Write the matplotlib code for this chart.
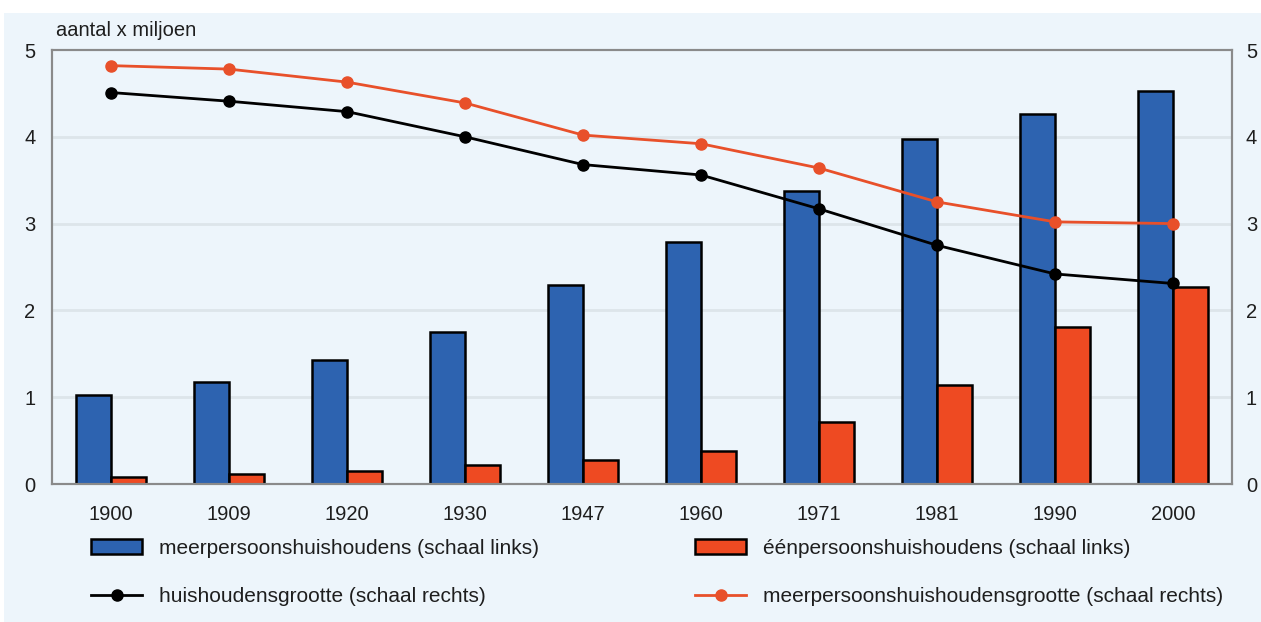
import matplotlib
matplotlib.use('Agg')
import matplotlib.pyplot as plt
import numpy as np
from matplotlib.patches import Rectangle, Patch
from matplotlib.lines import Line2D

# Huishoudens in Nederland, 1900-2000
years = ['1900', '1909', '1920', '1930', '1947', '1960', '1971', '1981', '1990', '2000']
meerpersoons = [1.03, 1.18, 1.43, 1.75, 2.29, 2.79, 3.38, 3.97, 4.26, 4.53]
eenpersoons = [0.08, 0.12, 0.15, 0.22, 0.28, 0.38, 0.71, 1.14, 1.81, 2.27]
huishoudensgrootte = [4.51, 4.41, 4.29, 4.00, 3.68, 3.56, 3.17, 2.75, 2.42, 2.31]
meerpersoonsgrootte = [4.82, 4.78, 4.63, 4.39, 4.02, 3.92, 3.64, 3.25, 3.02, 3.00]

blue = '#2d63b0'
orange = '#ee4a22'
line_orange = '#e8502a'
bg = '#edf5fb'
txt = '#1e1e1e'

plt.rcParams['font.family'] = ['Liberation Sans', 'DejaVu Sans']

fig = plt.figure(figsize=(12.61, 6.22), dpi=100)
fig.patch.set_facecolor(bg)
# white strip along the top and left edge
fig.patches.append(Rectangle((0, 1 - 13 / 622), 1, 13 / 622, transform=fig.transFigure,
                             facecolor='white', edgecolor='none', zorder=0))
fig.patches.append(Rectangle((0, 0), 4 / 1261, 1, transform=fig.transFigure,
                             facecolor='white', edgecolor='none', zorder=0))

ax = fig.add_axes([52 / 1261, 1 - 484 / 622, (1232 - 52) / 1261, (484 - 50) / 622])
ax.set_facecolor(bg)
x = np.arange(len(years))
w = 0.3

for y in [1, 2, 3, 4]:
    ax.axhline(y, color='#dde5ea', lw=2, zorder=0)

ax.bar(x - w / 2, meerpersoons, width=w, color=blue, edgecolor='black', linewidth=1.8, zorder=2)
ax.bar(x + w / 2, eenpersoons, width=w, color=orange, edgecolor='black', linewidth=1.8, zorder=2)

ax.set_xlim(-0.5, len(years) - 0.5)
ax.set_ylim(0, 5)
ax.set_xticks(x)
ax.set_xticklabels(years)
ax.set_yticks(range(6))
ax.tick_params(axis='both', length=0, labelsize=14.5, colors=txt)
ax.tick_params(axis='x', pad=15)
ax.tick_params(axis='y', pad=12)
for sp in ax.spines.values():
    sp.set_color('#8a8a8a')
    sp.set_linewidth(1.5)

ax2 = ax.twinx()
ax2.set_ylim(0, 5)
ax2.set_yticks(range(6))
ax2.tick_params(axis='y', length=0, labelsize=14.5, pad=10, colors=txt)
for sp in ax2.spines.values():
    sp.set_color('#8a8a8a')
    sp.set_linewidth(1.5)

ax2.plot(x, meerpersoonsgrootte, color=line_orange, lw=2, marker='o', ms=8, zorder=3)
ax2.plot(x, huishoudensgrootte, color='black', lw=2, marker='o', ms=8, zorder=3)

fig.text(56 / 1261, 1 - 31 / 622, 'aantal x miljoen', fontsize=14.5, va='center', ha='left',
         color=txt)

legend_kw = dict(loc='center left', frameon=False, fontsize=15, handlelength=2.45,
                 handleheight=0.75, handletextpad=0.8, labelspacing=1.4, borderpad=0,
                 borderaxespad=0, labelcolor=txt)

left_handles = [
    Patch(facecolor=blue, edgecolor='black', linewidth=1.8),
    Line2D([], [], color='black', lw=2, marker='o', ms=8),
]
left_labels = ['meerpersoonshuishoudens (schaal links)', 'huishoudensgrootte (schaal rechts)']
right_handles = [
    Patch(facecolor=orange, edgecolor='black', linewidth=1.8),
    Line2D([], [], color=line_orange, lw=2, marker='o', ms=8),
]
right_labels = ['éénpersoonshuishoudens (schaal links)',
                'meerpersoonshuishoudensgrootte (schaal rechts)']

fig.legend(left_handles, left_labels,
           bbox_to_anchor=(91 / 1261, 1 - 572.5 / 622), **legend_kw)
fig.legend(right_handles, right_labels,
           bbox_to_anchor=(695 / 1261, 1 - 572.5 / 622), **legend_kw)

fig.savefig('out.png', dpi=100, facecolor=fig.get_facecolor())
